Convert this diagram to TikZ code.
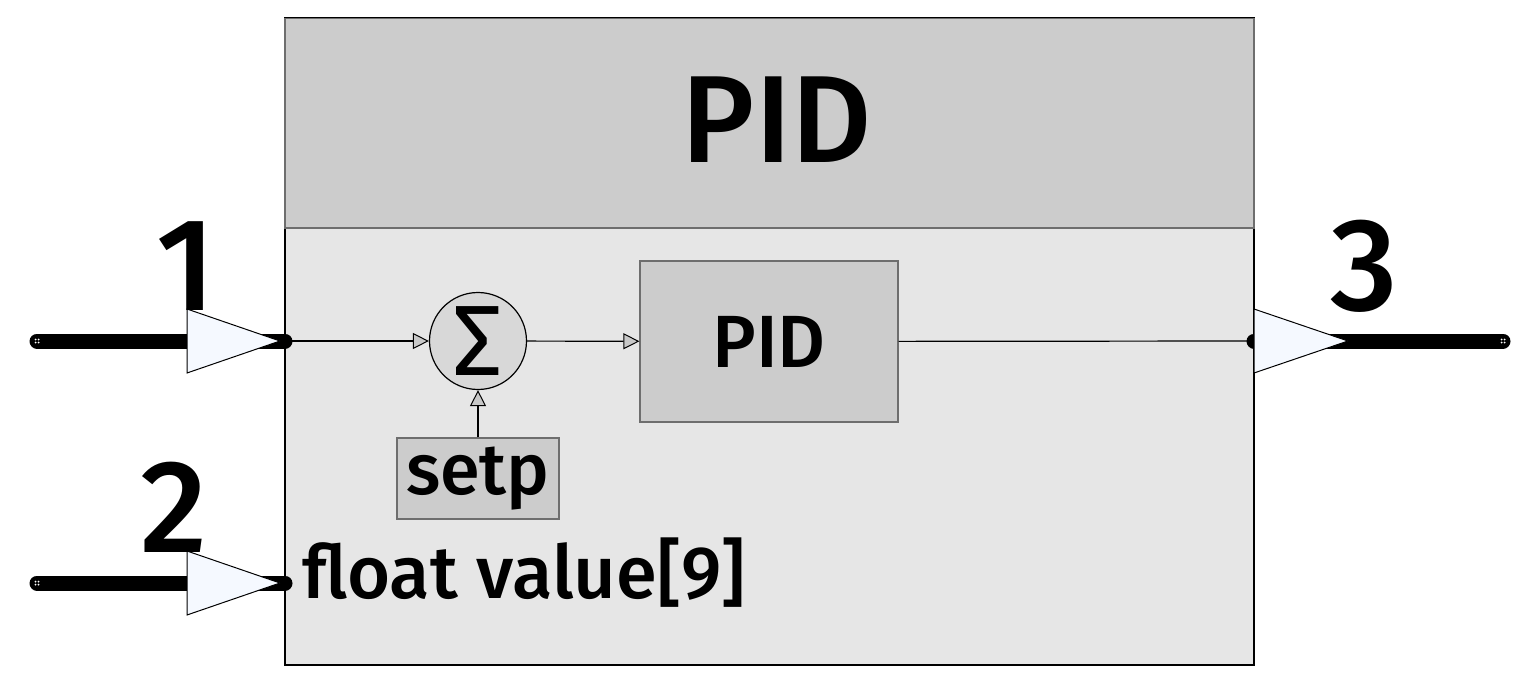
\documentclass[tikz,border=0pt]{standalone}
\usepackage{fontspec}
\setmainfont{Fira Sans}[BoldFont={Fira Sans Medium}]
\usetikzlibrary{arrows.meta,calc}
\definecolor{headgray}{HTML}{CCCCCC}
\definecolor{bodygray}{HTML}{E6E6E6}
\definecolor{edgegray}{HTML}{6E6E6E}
\definecolor{sumgray}{HTML}{D8D8D8}
\definecolor{tipgray}{HTML}{C8C8C8}
\definecolor{portfill}{HTML}{F5F9FF}

\begin{document}
\begin{tikzpicture}[x=0.5pt,y=-0.5pt,
        wire/.style={line width=0.6pt,-{Triangle[length=8pt,width=8pt,fill=tipgray,line width=0.5pt]}},
        port/.style={line width=7.5pt,line cap=round},
        porttip/.style={fill=portfill,draw=black,line width=0.5pt},
        bignum/.style={font=\bfseries\fontsize{66}{66}\selectfont,inner sep=0pt},
        innerbox/.style={draw=edgegray,fill=headgray,line width=0.6pt,inner sep=0pt}]

        \useasboundingbox (0,0) rectangle (1515,679);

        % block with header
        \node[draw=black,fill=bodygray,line width=0.6pt,minimum width=484.5pt,minimum height=323.5pt,inner sep=0pt] (block) at (769.5,341.5) {};
        \node[draw=edgegray,fill=headgray,line width=0.6pt,minimum width=484.5pt,minimum height=105pt,inner sep=0pt,anchor=north] (head) at (block.north) {};
        \draw[line width=0.6pt] (block.north west) -- (block.north east);
        \node[inner sep=0pt,anchor=base,font=\bfseries\fontsize{62}{62}\selectfont] (title) at (777,163) {PID};

        \coordinate (in1) at (285,341);
        \coordinate (in2) at (285,583);
        \coordinate (out3) at (1254,341);

        % inner parts
        \node[circle,draw=black,fill=sumgray,line width=0.6pt,minimum size=48.5pt,inner sep=0pt,font=\fontsize{50}{50}\selectfont] (sum) at (478,341) {\raisebox{-1pt}{Σ}};
        \node[innerbox,minimum width=129pt,minimum height=80.5pt,font=\bfseries\fontsize{37}{37}\selectfont] (pid) at (769,341.5) {PID};
        \node[innerbox,minimum width=81pt,minimum height=40.5pt,font=\bfseries\fontsize{36}{36}\selectfont] (setp) at (478,478.5) {setp};
        \node[anchor=base west,inner sep=0pt,font=\bfseries\fontsize{37}{37}\selectfont] (value) at (302,598) {float value[9]};

        \draw[wire] (in1) -- (sum);
        \draw[wire] (sum) -- (pid);
        \draw[wire] (setp) -- (sum);
        \draw[line width=0.6pt] (pid) -- (out3);

        % ports
        \draw[port] (37,341) coordinate (end1) -- (in1);
        \draw[port] (37,583) coordinate (end2) -- (in2);
        \draw[port] (out3) -- (1503,341) coordinate (end3);
        \draw[porttip] (187,309) -- (280,341) -- (187,373) -- cycle;
        \draw[porttip] (187,551) -- (280,583) -- (187,615) -- cycle;
        \draw[porttip] (1254,309) -- (1348,341) -- (1254,373) -- cycle;
        \foreach \e in {end1,end2,end3}
            \foreach \dx/\dy in {-1.5/-1.5,1.5/-1.5,-1.5/1.5,1.5/1.5}
                \fill[white] ($(\e)+(\dx,\dy)$) circle (0.5pt);

        \node[bignum,anchor=base] (lab1) at (186,310) {1};
        \node[bignum,anchor=base] (lab2) at (174,552) {2};
        \node[bignum,anchor=base] (lab3) at (1364,310) {3};

\end{tikzpicture}
\end{document}
